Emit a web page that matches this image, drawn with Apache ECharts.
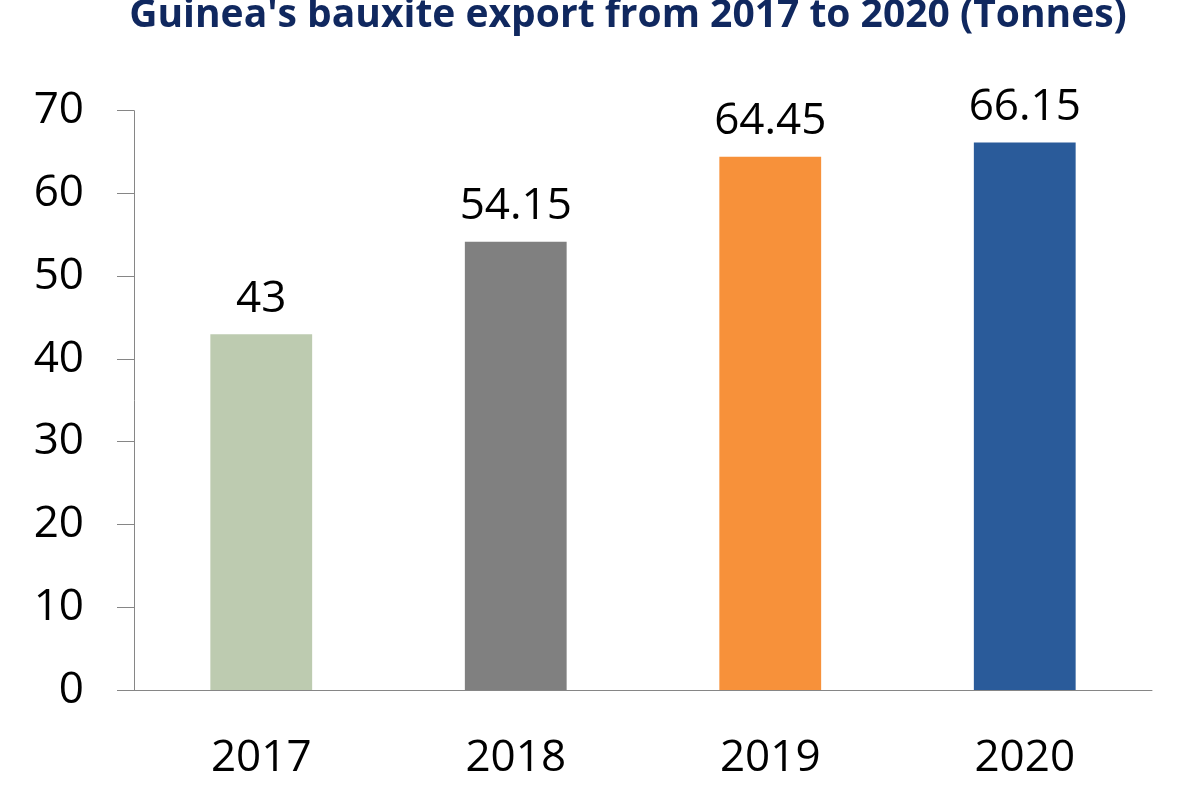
<!DOCTYPE html>
<html>
<head>
<meta charset="utf-8">
<title>Guinea bauxite export</title>
<script src="https://cdn.jsdelivr.net/npm/echarts@6/dist/echarts.min.js"></script>
<style>
    html, body { margin: 0; padding: 0; background: #ffffff; }
    #main { width: 1200px; height: 800px; }
</style>
</head>
<body>
<div id="main"></div>
<script>
    // data
    var years = ['2017', '2018', '2019', '2020'];
    var exports = [43, 54.15, 64.45, 66.15];
    var barColors = ['#bdcbb0', '#808080', '#f7913a', '#2a5b9a'];
    var yTicks = [0, 10, 20, 30, 40, 50, 60, 70];

    var myChart = echarts.init(document.getElementById('main'));

    var axisGray = '#868686';
    var font = '"Open Sans", "DejaVu Sans", sans-serif';

    var option = {
        animation: false,
        title: {
            text: "Guinea's bauxite export from 2017 to 2020 (Tonnes)",
            left: 623,
            textAlign: 'center',
            top: -9,
            textStyle: {
                fontFamily: font,
                fontSize: 39,
                fontWeight: 'bold',
                color: '#10285f'
            }
        },
        grid: {
            left: 134,
            right: 48,
            top: 110.7,
            bottom: 110
        },
        xAxis: {
            type: 'category',
            data: years,
            axisLine: { lineStyle: { color: axisGray, width: 1 } },
            axisTick: { length: 17, lineStyle: { color: axisGray } },
            axisLabel: {
                margin: 46,
                fontFamily: font,
                fontSize: 44,
                color: '#000000'
            }
        },
        yAxis: {
            type: 'value',
            min: yTicks[0],
            max: yTicks[yTicks.length - 1],
            interval: 10,
            splitLine: { show: false },
            axisLine: { show: true, lineStyle: { color: axisGray, width: 1 } },
            axisTick: { show: true, length: 17, lineStyle: { color: axisGray } },
            axisLabel: {
                margin: 50,
                fontFamily: font,
                fontSize: 44,
                color: '#000000'
            }
        },
        series: [{
            type: 'bar',
            barWidth: '40%',
            data: exports.map(function (v, i) {
                return { value: v, itemStyle: { color: barColors[i] } };
            }),
            label: {
                show: true,
                position: 'top',
                distance: 13,
                fontFamily: font,
                fontSize: 44,
                color: '#000000'
            }
        }]
    };

    myChart.setOption(option);
</script>
</body>
</html>
